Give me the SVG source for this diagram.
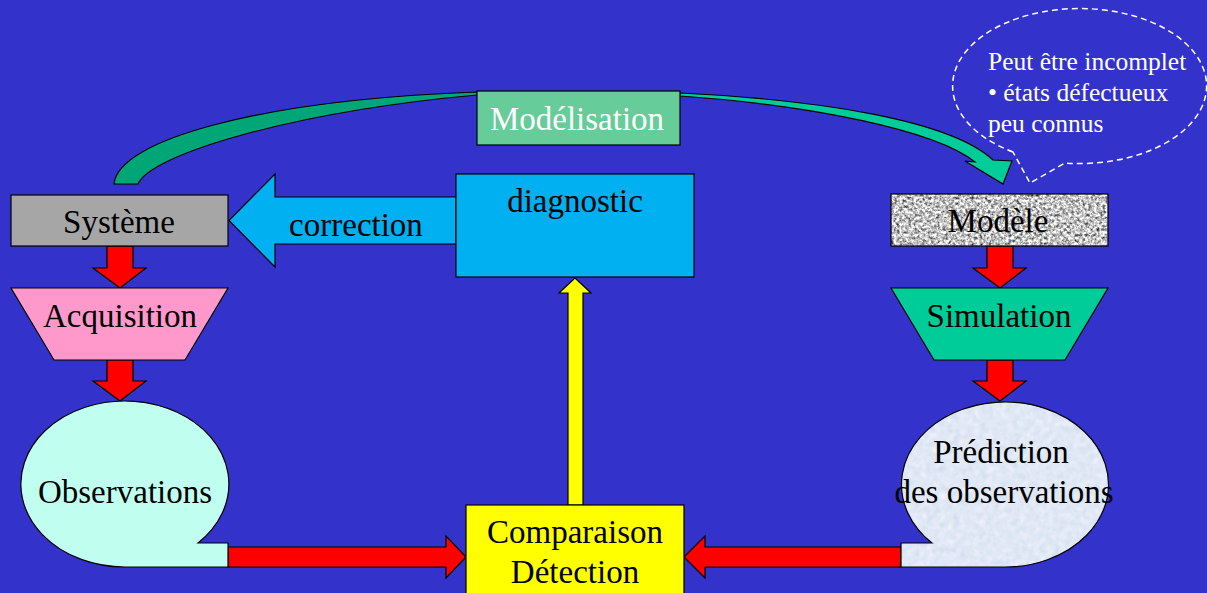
<svg xmlns="http://www.w3.org/2000/svg" width="1207" height="593" viewBox="0 0 1207 593">
<style>
.t{font-family:"Liberation Serif","Times New Roman",serif;font-size:33px;fill:#000;text-anchor:middle}
.w{fill:#fff}
.c{font-family:"Liberation Serif","Times New Roman",serif;font-size:25.5px;fill:#fff}
.s{stroke:#000;stroke-width:1.2}
.red{fill:#FF0000;stroke:#000;stroke-width:1.2}
</style>
<defs>
<filter id="granite" filterUnits="objectBoundingBox" x="0" y="0" width="1" height="1" color-interpolation-filters="sRGB">
<feTurbulence type="fractalNoise" baseFrequency="0.35" numOctaves="3" seed="4"/>
<feColorMatrix type="matrix" values="0.8 0.8 0.8 0 -0.44  0.8 0.8 0.8 0 -0.44  0.8 0.8 0.8 0 -0.44  0 0 0 0 1"/>
<feComposite operator="in" in2="SourceGraphic"/>
</filter>
<filter id="frost" filterUnits="objectBoundingBox" x="0" y="0" width="1" height="1" color-interpolation-filters="sRGB">
<feTurbulence type="fractalNoise" baseFrequency="0.15" numOctaves="2" seed="7"/>
<feColorMatrix type="matrix" values="0.08 0.08 0.08 0 0.76  0.06 0.06 0.06 0 0.82  0.04 0.04 0.04 0 0.9  0 0 0 0 1"/>
<feComposite operator="in" in2="SourceGraphic"/>
</filter>
</defs>
<rect width="1207" height="593" fill="#3333CC"/>

<g id="connectors">
<path id="arc-left" class="s" fill="#00A676" d="M114,184 C118,140 260,100 477,92 L477,95 C290,112 150,155 138,184 Z"/>
<path id="arc-right" class="s" fill="#00CC99" d="M680,93 C820,100 950,120 993,160 L1012,161 L1003,184 L965,161 L975,162 C935,130 810,105 680,96 Z"/>
<polygon id="arrow-correction" class="s" fill="#00B0F0" points="456,197 275,197 275,174 229,220.5 275,267 275,244 456,244"/>
<polygon class="red" points="107,246 133,246 133,268 146,268 120,288 93,268 107,268"/>
<polygon class="red" points="107,360 133,360 133,381 146,381 120,401 93,381 107,381"/>
<polygon class="red" points="987,246 1013,246 1013,268 1026,268 1000,288 973,268 987,268"/>
<polygon class="red" points="987,360 1013,360 1013,381 1026,381 1000,401 973,381 987,381"/>
<polygon class="red" points="228,547 446,547 446,536 466,557 446,578 446,567 228,567"/>
<polygon class="red" points="901,547 705,547 705,536 684,557 705,578 705,567 901,567"/>
<polygon id="arrow-yellow" class="s" fill="#FFFF00" points="568,505 568,293 559,293 575,278 591,293 583,293 583,505"/>
</g>

<g id="systeme">
<rect class="s" x="11" y="195" width="217" height="51" fill="#A6A6A6"/>
<text class="t" x="119" y="233">Système</text>
</g>

<g id="correction-label">
<text class="t" x="356" y="236">correction</text>
</g>

<g id="acquisition">
<polygon class="s" fill="#FF99CC" points="11,288 228,288 185,360 54,360"/>
<text class="t" x="120" y="327">Acquisition</text>
</g>

<g id="observations">
<path class="s" fill="#C0FFF0" d="M125,567 A104,83 0 1 1 198,543 L228,543 L228,567 Z"/>
<text class="t" x="125" y="503">Observations</text>
</g>

<g id="modelisation">
<rect class="s" x="477" y="91" width="203" height="54" fill="#66CC99"/>
<text class="t w" x="577" y="130">Modélisation</text>
</g>

<g id="diagnostic">
<rect class="s" x="456" y="174" width="238" height="103" fill="#00B0F0"/>
<text class="t" x="575" y="212">diagnostic</text>
</g>

<g id="comparaison">
<rect class="s" x="466" y="505" width="218" height="100" fill="#FFFF00"/>
<text class="t" x="575" y="543">Comparaison</text>
<text class="t" x="575" y="583">Détection</text>
</g>

<g id="modele">
<rect x="891" y="194" width="217" height="52" fill="#A0A0A0" filter="url(#granite)"/>
<rect class="s" x="891" y="194" width="217" height="52" fill="none"/>
<text class="t" x="998" y="232">Modèle</text>
</g>

<g id="simulation">
<polygon class="s" fill="#00CC99" points="891,288 1108,288 1065,360 934,360"/>
<text class="t" x="999" y="327">Simulation</text>
</g>

<g id="prediction">
<path fill="#DCE9F6" filter="url(#frost)" d="M1004,567 A103.5,82.5 0 1 0 932,543 L901,543 L901,567 Z"/>
<path class="s" fill="none" d="M1004,567 A103.5,82.5 0 1 0 932,543 L901,543 L901,567 Z"/>
<text class="t" x="1001" y="463">Prédiction</text>
<text class="t" x="1004" y="503">des observations</text>
</g>

<g id="callout">
<path fill="none" stroke="#fff" stroke-width="1.5" stroke-dasharray="6,4" d="M1013,152 A127,77.5 0 1 1 1065,163 L1030,183 Z"/>
<text class="c" x="988" y="70">Peut être incomplet</text>
<text class="c" x="988" y="101">• états défectueux</text>
<text class="c" x="988" y="132">peu connus</text>
</g>
</svg>
